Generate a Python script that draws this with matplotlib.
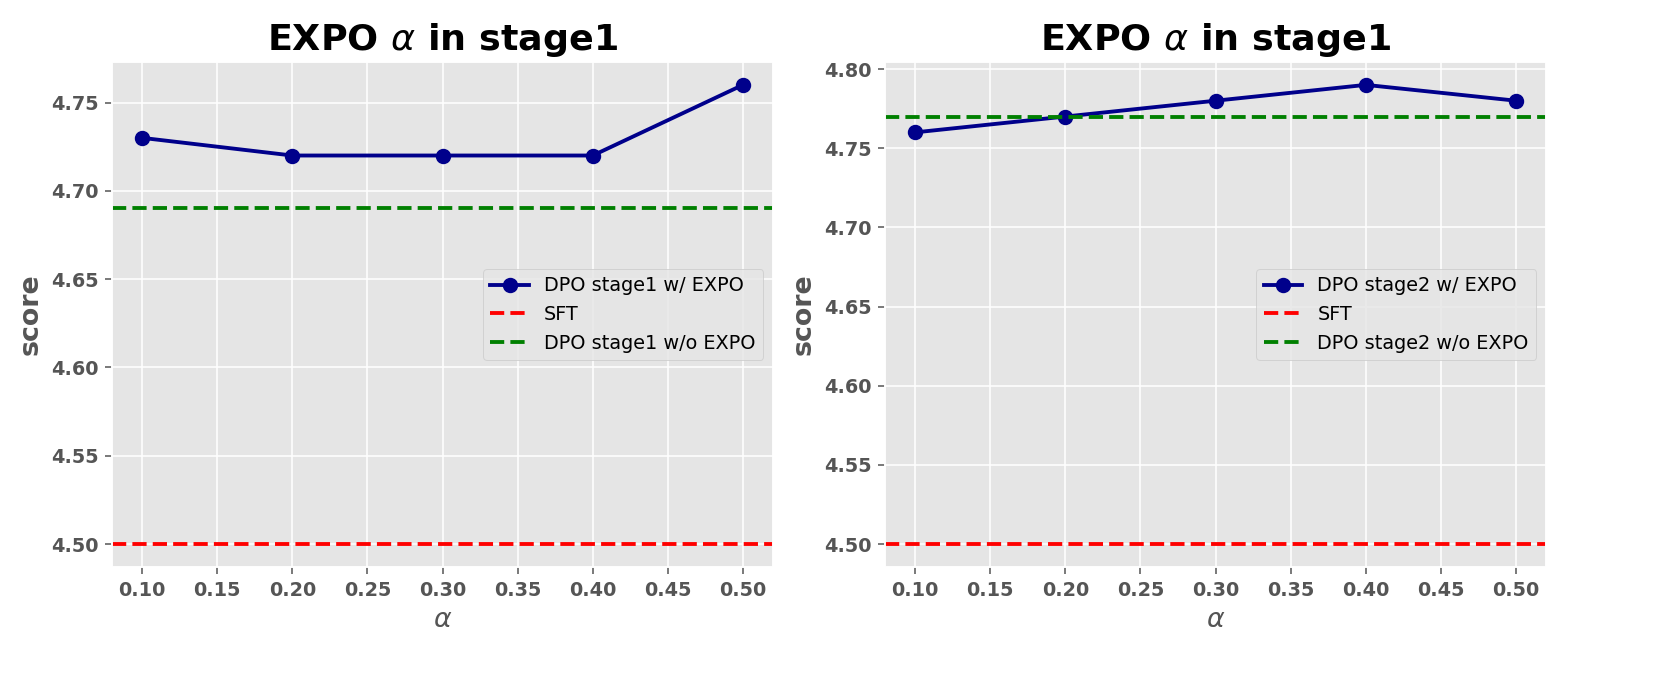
import numpy as np
import matplotlib
matplotlib.use('Agg')
import matplotlib.pyplot as plt

plt.style.use('ggplot')

# data
alpha = [0.1, 0.2, 0.3, 0.4, 0.5]
stage1_expo = [4.73, 4.72, 4.72, 4.72, 4.76]
stage2_expo = [4.76, 4.77, 4.78, 4.79, 4.78]
sft_score = 4.50
stage1_dpo = 4.69
stage2_dpo = 4.77

titles = [r'EXPO $\alpha$ in stage1', r'EXPO $\alpha$ in stage1']
expo_labels = ['DPO stage1 w/ EXPO', 'DPO stage2 w/ EXPO']
dpo_labels = ['DPO stage1 w/o EXPO', 'DPO stage2 w/o EXPO']
series = [stage1_expo, stage2_expo]
baselines = [stage1_dpo, stage2_dpo]

fig = plt.figure(figsize=(12, 5), dpi=138.42)
positions = [[0.0674, 0.1806, 0.398, 0.7298], [0.5328, 0.1806, 0.398, 0.7298]]

for i in range(2):
    ax = fig.add_axes(positions[i])
    ax.plot(alpha, series[i], marker='o', color='darkblue', linewidth=2,
            markersize=7, label=expo_labels[i])
    ax.axhline(sft_score, color='red', linestyle='--', linewidth=2, label='SFT')
    ax.axhline(baselines[i], color='green', linestyle='--', linewidth=2, label=dpo_labels[i])
    ax.set_title(titles[i], fontsize=19, fontweight='bold', color='black')
    ax.set_xlabel(r'$\alpha$', fontsize=14, color='#555555')
    ax.set_ylabel('score', fontsize=14, fontweight='bold', color='#555555')
    for lab in ax.get_xticklabels() + ax.get_yticklabels():
        lab.set_fontweight('bold')
        lab.set_fontsize(10)
    ax.legend(loc='center right', fontsize=10, facecolor='#e5e5e5')

fig.savefig('out.png', dpi=138.42)
